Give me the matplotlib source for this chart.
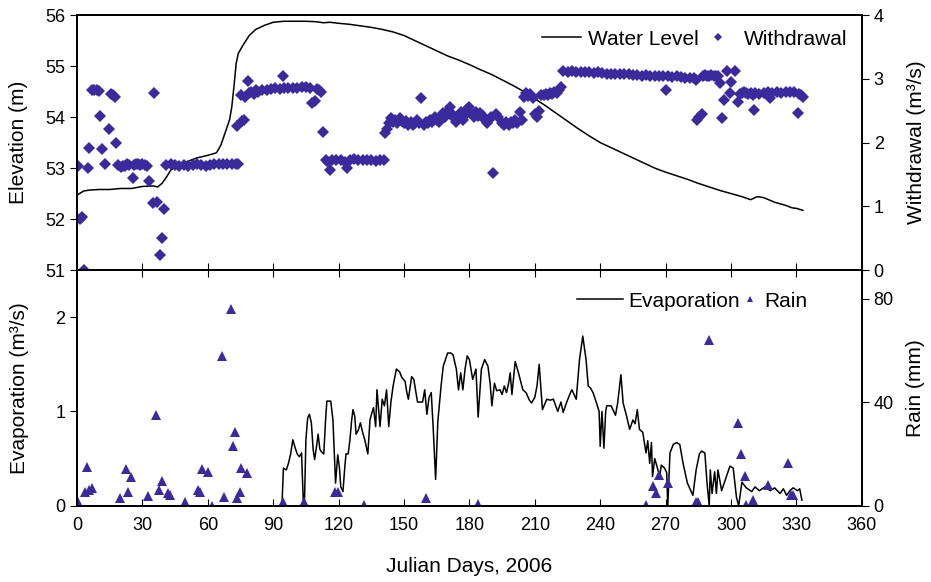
import numpy as np
import matplotlib.pyplot as plt
from matplotlib.lines import Line2D

plt.rcParams["font.family"] = ["Liberation Sans", "DejaVu Sans"]

# ---- water level (m) ----
level_day = [0, 3, 6, 10, 15, 20, 25, 30, 35, 37, 39, 41, 43, 46, 50, 55, 60, 64, 66,
             68, 70, 71, 72, 73, 74, 76, 79, 82, 86, 90, 95, 105, 110, 113, 116, 120,
             125, 130, 135, 140, 145, 150, 155, 160, 165, 170, 175, 180, 185, 190, 195,
             200, 205, 210, 215, 220, 225, 230, 235, 240, 245, 250, 255, 260, 265, 270,
             275, 280, 285, 290, 295, 300, 305, 309, 312, 315, 320, 325, 328, 330, 333]
level_m = [52.47, 52.55, 52.57, 52.58, 52.58, 52.60, 52.60, 52.64, 52.65, 52.63, 52.70,
           52.82, 52.96, 53.05, 53.12, 53.20, 53.25, 53.30, 53.45, 53.70, 53.95, 54.20,
           54.60, 55.05, 55.25, 55.40, 55.60, 55.72, 55.80, 55.86, 55.88, 55.88, 55.87,
           55.85, 55.86, 55.84, 55.82, 55.79, 55.76, 55.72, 55.67, 55.60, 55.50, 55.40,
           55.30, 55.20, 55.12, 55.03, 54.93, 54.84, 54.73, 54.62, 54.50, 54.36, 54.22,
           54.07, 53.92, 53.77, 53.63, 53.50, 53.40, 53.30, 53.20, 53.10, 53.00, 52.92,
           52.85, 52.78, 52.70, 52.63, 52.56, 52.50, 52.44, 52.38, 52.44, 52.42, 52.33,
           52.27, 52.22, 52.21, 52.17]

# ---- withdrawal (m3/s) ----
wd_day = [0.5, 1.5, 2.5, 3, 5, 5.5, 7, 8, 9, 10, 10.5, 11.5, 13, 14.8, 15.5, 16.5, 17.5,
          18, 19, 20, 21, 22, 23, 24, 25.7, 26, 27, 28, 29, 30, 31, 32, 33, 35.5, 35,
          36.5, 38, 39, 40,
          41, 43, 45, 47, 49, 51, 53, 55, 57, 59, 61, 63, 65, 67, 69, 71, 73, 74,
          73.3, 75, 75.5, 76.5, 77, 78.5, 79, 80, 81, 82, 83, 85, 87, 89, 91, 93, 94.5,
          95, 97, 99, 101, 103, 105, 107, 108, 109, 110, 111, 112, 113,
          114, 115, 116, 117, 119, 121, 123, 124, 125, 127, 129, 131, 133, 135, 137,
          139, 141,
          141.5, 142, 143, 144, 145, 146, 147, 148, 149, 150, 151, 152, 153, 154, 155,
          156, 157, 158, 159, 160, 161, 162, 163, 164, 165, 166, 167, 168, 169, 170,
          171, 172, 173, 174, 175, 176, 177, 178, 179, 180, 181, 182, 183, 184, 185,
          186, 187, 188, 189, 190, 191, 192, 193, 195, 196, 197, 198, 199, 200, 201,
          202, 203, 204, 205, 206, 207, 208, 209, 210, 211, 212, 213, 214, 215, 216,
          217, 218, 219, 220, 221, 222,
          223, 225, 227, 229, 231, 233, 235, 237, 239, 241, 243, 245, 247, 249, 251,
          253, 255, 257, 259, 261, 263, 265, 267, 269, 270, 271, 273, 275, 277, 279,
          281, 283, 284,
          284.5, 285.5, 286.5, 287, 288, 289, 290, 291, 292, 293, 294, 295, 296, 296.7,
          298, 299.5, 300, 302, 303, 304, 305, 306, 307, 308, 309, 310, 310.5, 311,
          313, 315, 317, 318, 319, 321, 323, 325, 327, 329, 330.5, 331, 332, 333]
wd_m3s = [1.63, 0.80, 0.83, 0.00, 1.60, 1.91, 2.82, 2.83, 2.82, 2.81, 2.42, 1.90, 1.67,
          2.21, 2.76, 2.74, 2.72, 1.99, 1.65, 1.62, 1.63, 1.64, 1.66, 1.65, 1.44, 1.65,
          1.66, 1.66, 1.65, 1.66, 1.65, 1.64, 1.40, 2.78, 1.05, 1.06, 0.23, 0.50, 0.96,
          1.65, 1.66, 1.65, 1.64, 1.65, 1.64, 1.65, 1.66, 1.65, 1.64, 1.65, 1.66, 1.66,
          1.67, 1.66, 1.67, 1.66, 1.66,
          2.26, 2.75, 2.34, 2.36, 2.72, 2.97, 2.78, 2.80, 2.76, 2.82, 2.80, 2.82, 2.83,
          2.84, 2.85, 2.84, 3.04, 2.85, 2.86, 2.85, 2.86, 2.87, 2.87, 2.86, 2.62, 2.66,
          2.84, 2.82, 2.80, 2.16,
          1.72, 1.70, 1.57, 1.72, 1.73, 1.72, 1.70, 1.60, 1.73, 1.74, 1.72, 1.73, 1.72,
          1.72, 1.71, 1.72, 1.72,
          2.15, 2.22, 2.30, 2.38, 2.33, 2.36, 2.31, 2.38, 2.34, 2.30, 2.34, 2.28, 2.32,
          2.27, 2.30, 2.36, 2.30, 2.70, 2.28, 2.33, 2.30, 2.36, 2.33, 2.40, 2.36, 2.32,
          2.40, 2.46, 2.40, 2.50, 2.56, 2.45, 2.38, 2.33, 2.40, 2.48, 2.36, 2.44, 2.52,
          2.56, 2.45, 2.40, 2.48, 2.42, 2.47, 2.44, 2.35, 2.30, 2.35, 2.40, 1.52, 2.45,
          2.40, 2.30, 2.27, 2.32, 2.28, 2.33, 2.30, 2.36, 2.30, 2.48, 2.35, 2.72, 2.78,
          2.73, 2.76, 2.70, 2.45, 2.40, 2.50, 2.75, 2.74, 2.77, 2.75, 2.78, 2.76, 2.79,
          2.78, 2.82, 2.88,
          3.12, 3.11, 3.12, 3.11, 3.10, 3.11, 3.10, 3.09, 3.10, 3.09, 3.08, 3.08, 3.07,
          3.08, 3.07, 3.07, 3.06, 3.06, 3.05, 3.06, 3.05, 3.05, 3.04, 3.04, 2.82, 3.04,
          3.03, 3.04, 3.03, 3.02, 3.02, 3.01, 2.98,
          2.35, 2.40, 2.45, 3.05, 3.06, 3.04, 3.05, 3.06, 3.04, 3.05, 3.05, 2.93, 2.38,
          2.67, 3.12, 2.78, 2.95, 3.12, 2.64, 2.76, 2.78, 2.80, 2.78, 2.76, 2.78, 2.75,
          2.51, 2.78, 2.77, 2.78, 2.79, 2.70, 2.78, 2.79, 2.78, 2.79, 2.80, 2.79, 2.47,
          2.76, 2.74, 2.72]

# ---- evaporation (m3/s) ----
ev_day = [0, 94, 94.7, 96, 97, 98, 99, 100, 101, 102, 103, 103.8, 104.3, 105, 105.8,
          106.6, 107.5, 108.3, 109, 110, 110.6, 111.4, 112.2, 113.2, 114, 114.6, 116.4,
          117.4, 118.6, 119.6, 120.4, 121, 122, 122.8, 123.4, 124.4, 125.2, 126, 126.6,
          127.4, 128, 129, 130, 131, 132, 133.4, 134.4, 135.2, 136, 137, 137.6, 139,
          140, 141, 142, 143, 144, 145, 146.5, 148, 149, 150.5, 151.3, 152, 153.5,
          154.5, 155.5, 156.2, 158.5, 159.5, 160.5, 161.5, 162.5, 163.4, 164.5, 165.5,
          167, 168, 169, 170, 171.5, 172.5, 174, 175, 176, 177, 178, 179, 180, 181.5,
          183, 184, 185.5, 187, 188.5, 189.5, 190.3, 191.5, 192.5, 194, 195, 196, 197,
          198, 198.7, 199.5, 201, 202.5, 204.5, 206, 207.5, 208.5, 210, 211, 212,
          213.5, 215.5, 217, 218.5, 220.5, 222, 223, 224.5, 226, 227, 229, 230.5, 232,
          233.5, 234.5, 235.5, 236.7, 238.3, 239.5, 240, 240.8, 241.7, 242.5, 243, 245,
          247, 248, 249.5, 250.5, 252, 253.5, 255, 256, 257, 258, 259.5, 261, 261.8,
          262.7, 263.5, 264, 265, 266, 267.3, 268, 269.5, 270.5, 271, 272, 273.5, 275,
          276.5, 278, 280, 282.5, 284, 285.5, 286.5, 288, 289, 290, 290.5, 291.3,
          292.5, 293.3, 294, 295.7, 297, 298.5, 299.5, 301, 302.5, 303.5, 305, 307,
          309.5, 311, 313, 315.5, 318, 320, 322.5, 324, 325.5, 327, 328.5, 330.5,
          331.5, 332.5]
ev_m3s = [0, 0, 0.40, 0.38, 0.45, 0.55, 0.70, 0.62, 0.55, 0.52, 0.56, 0.05, 0.00, 0.70,
          0.93, 0.97, 0.88, 0.60, 0.49, 0.65, 0.76, 0.60, 0.57, 0.55, 0.90, 1.11, 1.11,
          0.91, 0.24, 0.54, 0.40, 0.20, 0.15, 0.40, 0.55, 0.55, 0.70, 0.91, 1.02, 0.95,
          0.76, 0.80, 0.88, 0.78, 0.70, 0.55, 0.91, 0.98, 1.04, 0.84, 1.23, 0.84, 1.13,
          1.06, 1.23, 0.84, 1.10, 1.27, 1.45, 1.42, 1.36, 1.32, 1.20, 1.13, 1.37, 1.34,
          1.20, 1.10, 1.10, 1.23, 0.97, 1.15, 1.20, 0.82, 0.28, 0.89, 1.27, 1.48, 1.55,
          1.62, 1.62, 1.60, 1.45, 1.23, 1.41, 1.23, 1.45, 1.59, 1.55, 1.34, 1.45, 0.94,
          1.45, 1.55, 1.48, 1.30, 1.06, 1.30, 1.22, 1.23, 1.18, 1.27, 1.20, 1.30, 1.41,
          1.18, 1.53, 1.41, 1.23, 1.20, 1.12, 1.09, 1.15, 1.27, 1.50, 1.02, 1.13, 1.12,
          1.13, 1.00, 1.10, 0.99, 1.09, 1.18, 1.23, 1.13, 1.55, 1.80, 1.55, 1.27, 1.25,
          1.20, 1.09, 1.00, 0.63, 1.00, 0.61, 1.00, 1.06, 1.06, 0.96, 1.09, 1.39, 1.09,
          0.96, 0.81, 0.91, 0.87, 1.02, 0.81, 0.78, 0.56, 0.69, 0.45, 0.67, 0.31, 0.50,
          0.42, 0.31, 0.43, 0.40, 0.35, 0.00, 0.56, 0.65, 0.67, 0.65, 0.45, 0.24, 0.11,
          0.38, 0.55, 0.58, 0.56, 0.24, 0.00, 0.38, 0.13, 0.36, 0.13, 0.38, 0.16, 0.25,
          0.35, 0.42, 0.40, 0.09, 0.00, 0.25, 0.19, 0.15, 0.20, 0.16, 0.20, 0.16, 0.19,
          0.13, 0.18, 0.11, 0.16, 0.19, 0.16, 0.18, 0.06]

# ---- rain (mm) ----
rain_day = [0, 3.7, 4.6, 5.5, 6.9, 19.7, 22.5, 23.5, 24.6, 32.7, 36.2, 37.7, 39, 41.8,
            42.5, 49.5, 55.6, 56.5, 57.2, 60.2, 61.8, 66.6, 67.3, 70.5, 71.7, 72.4, 73.5,
            74.7, 75, 77.8, 94.6, 104.3, 118.5, 119.8, 131.6, 160, 184, 261, 264, 265.8,
            267, 271, 284, 285, 289.8, 303, 304.5, 306.3, 307, 310, 316.8, 326, 327.4,
            328.3]
rain_mm = [2.3, 5.4, 15, 6, 7, 3, 14, 5.4, 11, 3.9, 35, 6.2, 9.7, 5, 4.3, 1.5, 6.2, 5.5,
           14.3, 13, 0, 58, 3.5, 76, 23, 28.6, 3, 5.4, 14.7, 12.7, 1.5, 1.5, 5.4, 5.4,
           0.4, 3, 0.8, 0.4, 7.7, 5, 12, 8.9, 1.5, 1.5, 64, 32, 20, 11.6, 0.4, 2.3, 8.1,
           16.6, 4.2, 4.2]

day_ticks = list(range(0, 361, 30))
purple = "#3a2a9e"
fs = 13     # tick labels
lfs = 15    # axis labels and legends

fig = plt.figure(figsize=(9.31, 5.82), dpi=100)
ax1 = fig.add_axes([0.0827, 0.536, 0.843, 0.438])
ax2 = fig.add_axes([0.0827, 0.131, 0.843, 0.405])

# top panel
ax1.plot(level_day, level_m, color="black", lw=1.1)
ax1.set_xlim(0, 360)
ax1.set_ylim(51, 56)
ax1.set_yticks(range(51, 57))
ax1.set_xticks(day_ticks)
ax1.tick_params(axis="x", direction="in", length=5, labelbottom=False)
ax1.tick_params(axis="y", direction="out", length=5, labelsize=fs)
ax1.set_ylabel("Elevation (m)", fontsize=lfs, labelpad=12)

ax1r = ax1.twinx()
ax1r.plot(wd_day, wd_m3s, "D", color=purple, ms=6, mew=0)
ax1r.set_ylim(0, 4)
ax1r.set_yticks(range(0, 5))
ax1r.tick_params(axis="y", direction="out", length=5, labelsize=fs)
ax1r.set_ylabel("Withdrawal (m³/s)", fontsize=lfs, labelpad=17)

h1 = [Line2D([], [], color="black", lw=1.1),
      Line2D([], [], marker="D", ls="none", color=purple, ms=4.5, mew=0)]
ax1r.legend(h1, ["Water Level", "Withdrawal"], loc="upper right", ncol=2,
            frameon=False, fontsize=lfs, handlelength=1.9, columnspacing=0.0,
            handletextpad=0.3, borderpad=0, borderaxespad=0,
            bbox_to_anchor=(0.982, 0.943))

# bottom panel
ax2.plot(ev_day, ev_m3s, color="black", lw=1.1)
ax2.set_xlim(0, 360)
ax2.set_ylim(0, 2.5)
ax2.set_yticks([0, 1, 2])
ax2.set_xticks(day_ticks)
ax2.tick_params(axis="x", direction="in", length=5, top=True, labelsize=fs, pad=8)
ax2.tick_params(axis="y", direction="out", length=5, labelsize=fs)
ax2.set_ylabel("Evaporation (m³/s)", fontsize=lfs, labelpad=19)
ax2.set_xlabel("Julian Days, 2006", fontsize=lfs, labelpad=17)

ax2r = ax2.twinx()
ax2r.plot(rain_day, rain_mm, "^", color=purple, ms=6.5, mew=0)
ax2r.set_ylim(0, 91)
ax2r.set_yticks([0, 40, 80])
ax2r.tick_params(axis="y", direction="out", length=5, labelsize=fs)
ax2r.set_ylabel("Rain (mm)", fontsize=lfs, labelpad=9)

leg_ev = ax2r.legend([Line2D([], [], color="black", lw=1.1)], ["Evaporation"],
                     loc="upper right", frameon=False, fontsize=lfs,
                     handlelength=2.2, handletextpad=0.25, borderpad=0,
                     borderaxespad=0, bbox_to_anchor=(0.8446, 0.908))
ax2r.add_artist(leg_ev)
ax2r.legend([Line2D([], [], marker="^", ls="none", color=purple, ms=5, mew=0)],
            ["Rain"], loc="upper right", frameon=False, fontsize=lfs,
            handlelength=0.8, handletextpad=0.3, borderpad=0, borderaxespad=0,
            bbox_to_anchor=(0.931, 0.908))

for a in (ax1, ax1r, ax2, ax2r):
    for s in a.spines.values():
        s.set_linewidth(1.3)

fig.savefig("out.png", dpi=100)
